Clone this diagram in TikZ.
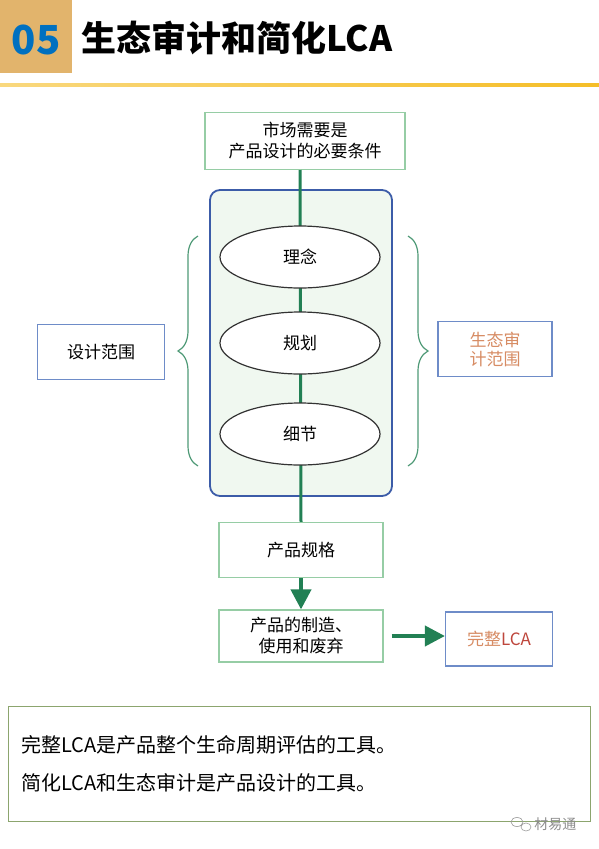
\documentclass[tikz,border=0pt]{standalone}
\usepackage{fontspec}
\setmainfont{Noto Sans CJK SC}
\usetikzlibrary{shapes.geometric,arrows.meta,decorations.pathreplacing}

\definecolor{tanbox}{RGB}{226,180,108}
\definecolor{numblue}{RGB}{0,112,192}
\definecolor{goldline}{RGB}{245,190,40}
\definecolor{flowgreen}{RGB}{34,128,84}
\definecolor{boxgreen}{RGB}{150,205,165}
\definecolor{frameblue}{RGB}{60,92,168}
\definecolor{softblue}{RGB}{110,140,200}
\definecolor{panelfill}{RGB}{240,248,240}
\definecolor{ecobrown}{RGB}{215,140,100}
\definecolor{lcared}{RGB}{190,70,60}
\definecolor{notegreen}{RGB}{140,165,110}

\tikzset{
  greenbox/.style={draw=boxgreen,line width=1.2pt,fill=white,minimum width=164pt,align=center,font=\fontsize{17}{21}\selectfont},
  bluebox/.style={draw=softblue,line width=1.2pt,fill=white,align=center,font=\fontsize{17}{21}\selectfont},
  stage/.style={ellipse,draw=black!80,line width=1.2pt,fill=white,minimum width=160pt,minimum height=62pt,font=\fontsize{17}{21}\selectfont},
  flowline/.style={draw=flowgreen,line width=3pt},
  bigarrow/.style={draw=flowgreen,line width=4pt,-{Triangle[length=20pt,width=20pt]}},
  rangebrace/.style={draw=flowgreen!80,line width=1.2pt,decorate,decoration={brace,amplitude=20pt}}
}

\begin{document}
\begin{tikzpicture}[x=1pt,y=-1pt]
   \useasboundingbox (0,0) rectangle (599,849);
   % title bar
   \fill[tanbox] (0,0) rectangle (72,73);
   \node[font=\fontsize{40}{40}\selectfont\bfseries,text=numblue] (num) at (36,40) {05};
   \node[font=\fontsize{35}{35}\selectfont\bfseries,anchor=west] (title) at (78,38) {生态审计和简化LCA};
   \shade[left color=goldline!60,right color=goldline] (0,83) rectangle (599,86);

   % design panel
   \draw[draw=frameblue,line width=1.8pt,fill=panelfill,rounded corners=10pt] (210,190) rectangle (392,496);

   % flow nodes
   \node[greenbox,minimum width=200pt,minimum height=57pt] (need) at (305,141) {市场需要是\\产品设计的必要条件};
   \node[greenbox,minimum height=55pt] (spec) at (301,550) {产品规格};
   \node[greenbox,minimum height=52pt] (make) at (301,636) {产品的制造、\\使用和废弃};
   \draw[flowline] (300,170) -- (spec.north);
   \node[stage] (idea) at (300,257) {理念};
   \node[stage] (plan) at (300,343) {规划};
   \node[stage] (detail) at (300,434) {细节};

   % scopes
   \draw[rangebrace] (198,466) -- (198,236);
   \draw[rangebrace] (408,236) -- (408,466);
   \node[bluebox,minimum width=127pt,minimum height=55pt] (design) at (101,352) {设计范围};
   \node[bluebox,minimum width=114pt,minimum height=55pt,text=ecobrown,font=\fontsize{17}{19}\selectfont] (eco) at (495,349) {生态审\\计范围};
   \node[bluebox,minimum width=107pt,minimum height=54pt] (full) at (499,639) {\textcolor{ecobrown}{完整}\textcolor{lcared}{LCA}};

   \draw[bigarrow] (spec.south) -- (make.north);
   \coordinate (mk) at ([xshift=8pt]make.east);
   \draw[bigarrow] (mk) -- (mk -| full.west);

   % note
   \node[draw=notegreen,line width=1pt,minimum width=582pt,minimum height=115pt] (note) at (299,764) {};
   \node[anchor=west,align=left,font=\fontsize{20}{38}\selectfont] (notetext) at (18,764)
     {完整LCA是产品整个生命周期评估的工具。\\简化LCA和生态审计是产品设计的工具。};
   \node[text=black!45,font=\fontsize{14}{14}\selectfont,anchor=east] (mark) at (580,824) {材易通};
   \draw[black!40,line width=0.6pt] (517,822) ellipse (6pt and 4.5pt) (526,827) ellipse (5pt and 4pt);
 \end{tikzpicture}
\end{document}
